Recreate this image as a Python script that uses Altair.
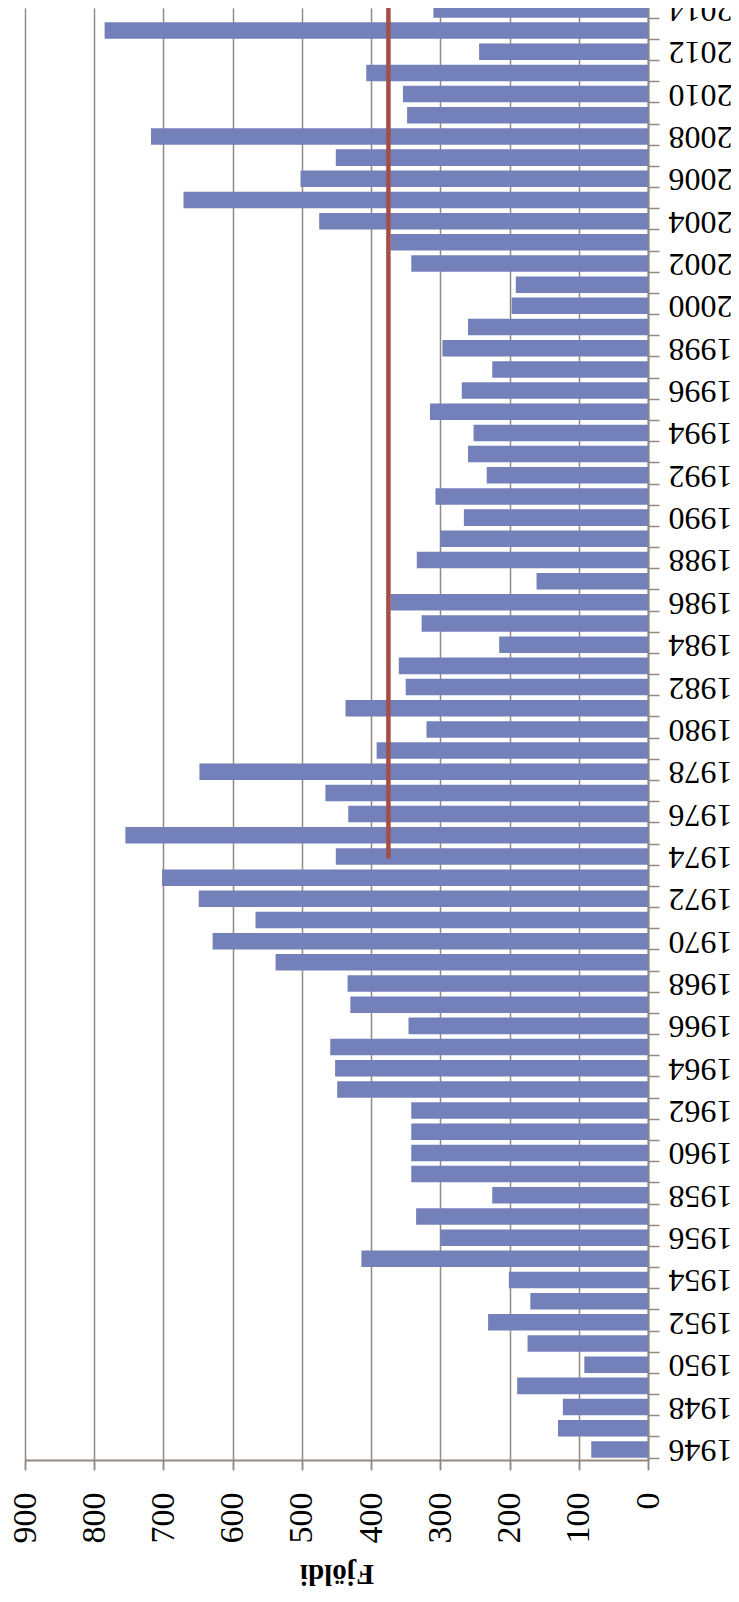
import altair as alt
import pandas as pd

years = list(range(1946, 2015))
counts = [82, 130, 123, 189, 92, 174, 231, 170, 201,
          414, 300, 335, 225, 342, 342, 342, 342, 449, 452,
          459, 346, 430, 434, 538, 629, 567, 649, 702, 451,
          755, 433, 466, 648, 392, 320, 437, 350, 360, 215,
          327, 372, 161, 334, 300, 266, 307, 233, 260, 252,
          315, 269, 225, 297, 260, 197, 191, 342, 372, 475,
          671, 502, 451, 718, 348, 354, 407, 244, 785, 310]
mean_years = [1974, 2014]
mean_values = [375, 375]
x_ticks = [0, 100, 200, 300, 400, 500, 600, 700, 800, 900]

FONT = "'Liberation Serif', 'Times New Roman', 'DejaVu Serif', serif"
GRID = "#938980"

df = pd.DataFrame({"year": years, "count": counts})
mdf = pd.DataFrame({"year": mean_years, "count": mean_values})

yscale = alt.Scale(domain=years[::-1], range=[-9.2, 1452],
                   paddingInner=0.22, paddingOuter=0.11)
xscale = alt.Scale(domain=[0, 900], reverse=True, nice=False)

x_axis = alt.Axis(values=x_ticks, title="Fjöldi", orient="bottom", grid=True,
                  gridColor=GRID, gridWidth=1.5, domainColor=GRID, domainWidth=2,
                  tickColor=GRID, tickWidth=1.5, tickSize=10,
                  labelAngle=270, labelAlign="right", labelBaseline="middle",
                  labelPadding=22, labelFont=FONT, labelFontSize=34,
                  labelColor="black", labelOverlap=False, labelFlush=False,
                  titleFont=FONT, titleFontSize=29, titleFontWeight="bold",
                  titleAngle=180, titleBaseline="bottom", titlePadding=15,
                  titleColor="black")

y_axis = alt.Axis(orient="right", title=None, grid=False,
                  domainColor=GRID, domainWidth=2, tickColor=GRID,
                  tickWidth=1.5, tickSize=11, tickBand="extent",
                  labelAngle=180, labelAlign="right", labelBaseline="middle",
                  labelPadding=9, labelFont=FONT, labelFontSize=32,
                  labelColor="black", labelOverlap=False,
                  labelExpr="datum.value % 2 == 0 ? datum.label : ''")

bars = alt.Chart(df).mark_bar(color="#7380ba").encode(
    x=alt.X("count:Q", scale=xscale, axis=x_axis),
    y=alt.Y("year:O", scale=yscale, axis=y_axis),
)

line = alt.Chart(mdf).mark_line(color="#a24f4a", strokeWidth=4.5,
                                strokeCap="round").encode(
    x=alt.X("count:Q", scale=xscale, axis=x_axis),
    y=alt.Y("year:O", scale=yscale, axis=y_axis),
)

chart = alt.layer(bars, line).properties(
    width=623, height=1452,
    padding={"left": 17, "top": 0, "right": 83, "bottom": 128},
    autosize=alt.AutoSizeParams(type="none"),
    background="white",
).configure_view(stroke="transparent")

chart.save("out.html", embed_options={"renderer": "svg", "actions": False})
